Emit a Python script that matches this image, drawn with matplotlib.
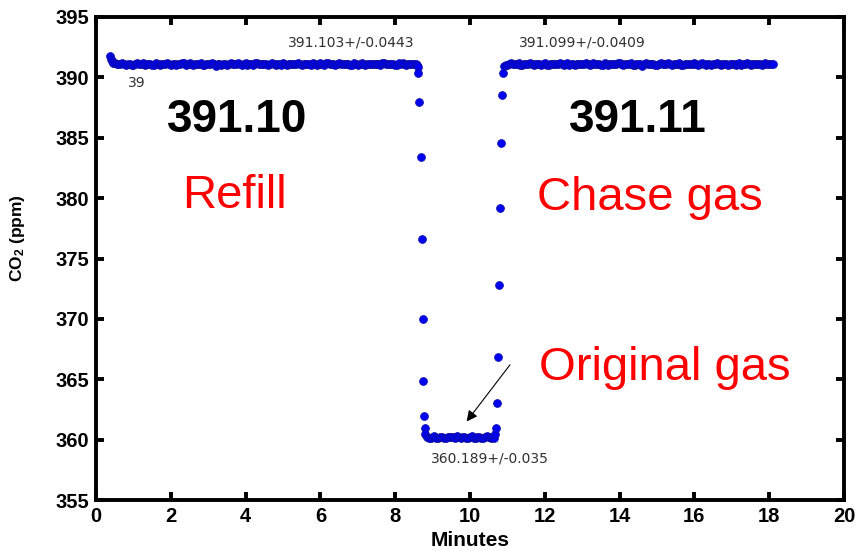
import numpy as np
import matplotlib
matplotlib.use("Agg")
import matplotlib.pyplot as plt

plt.rcParams['font.family'] = ['Liberation Sans', 'DejaVu Sans']
plt.rcParams['mathtext.fontset'] = 'custom'
plt.rcParams['mathtext.rm'] = 'Liberation Sans:bold'
plt.rcParams['mathtext.default'] = 'rm'

# ---- measurement record: CO2 (ppm) vs time (minutes) ----
# sampling step of the plateau records (minutes)
plateau_step = 0.05

# refill (reference) gas, first plateau
refill_lead_t = [0.38, 0.40, 0.42, 0.45]
refill_lead_ppm = [391.75, 391.55, 391.35, 391.20]
refill_t0 = 0.5
refill_ppm = [
    391.16, 391.10, 391.07, 391.13, 391.20, 391.08, 391.02, 391.14, 391.12, 391.06,
    391.05, 391.11, 391.22, 391.07, 391.09, 391.15, 391.01, 391.09, 391.14, 391.12,
    391.06, 391.05, 391.18, 391.12, 390.99, 391.14, 391.13, 391.07, 391.17, 391.10,
    391.04, 391.13, 391.11, 391.06, 391.08, 391.11, 391.21, 391.15, 391.03, 391.08,
    391.15, 391.11, 391.01, 391.07, 391.12, 391.12, 391.19, 391.06, 391.05, 391.14,
    391.09, 391.10, 391.16, 391.08, 390.98, 391.13, 391.14, 391.05, 391.11, 391.11,
    391.04, 391.12, 391.20, 391.09, 391.07, 391.14, 391.15, 391.07, 391.00, 391.13,
    391.17, 391.06, 391.10, 391.10, 391.06, 391.15, 391.18, 391.08, 391.08, 391.11,
    391.13, 391.07, 391.02, 391.14, 391.21, 391.09, 391.05, 391.12, 391.11, 391.05,
    391.16, 391.13, 391.01, 391.11, 391.12, 391.08, 391.07, 391.14, 391.17, 391.07,
    391.03, 391.10, 391.14, 391.12, 391.09, 391.06, 391.19, 391.13, 390.99, 391.11,
    391.15, 391.08, 391.06, 391.15, 391.18, 391.07, 391.10, 391.12, 391.04, 391.09,
    391.20, 391.14, 391.08, 391.08, 391.13, 391.11, 391.02, 391.05, 391.16, 391.13,
    391.05, 391.10, 391.22, 391.07, 391.00, 391.12, 391.12, 391.14, 391.09, 391.09,
    391.14, 391.08, 391.04, 391.15, 391.17, 391.07, 391.07, 391.11, 391.11, 391.12,
    391.01, 391.06, 391.15, 391.13, 391.18, 391.09, 391.03, 391.10, 391.12, 391.12,
    391.10, 391.09,
]

# switch from refill gas to original gas
drop_t = [8.58, 8.60, 8.62, 8.645, 8.68, 8.71, 8.74, 8.75, 8.77, 8.79, 8.81]
drop_ppm = [391.00, 390.85, 390.34, 387.94, 383.39, 376.65, 369.98, 364.89, 361.97, 360.95, 360.45]

# original gas plateau
orig_t0 = 8.85
orig_ppm = [
    360.24, 360.17, 360.15, 360.22, 360.27, 360.14, 360.12, 360.20, 360.21, 360.16,
    360.10, 360.23, 360.25, 360.18, 360.18, 360.15, 360.29, 360.21, 360.14, 360.19,
    360.22, 360.14, 360.11, 360.22, 360.26, 360.17, 360.16, 360.20, 360.20, 360.15,
    360.13, 360.23, 360.28, 360.18, 360.17, 360.21, 360.13,
]

# switch from original gas to chase gas
rise_t = [10.67, 10.69, 10.71, 10.74, 10.77, 10.80, 10.83, 10.86, 10.89, 10.92, 10.95]
rise_ppm = [360.45, 360.95, 363.07, 366.83, 372.81, 379.21, 384.59, 388.54, 390.34, 390.95, 391.05]

# chase gas plateau
chase_t0 = 11.0
chase_ppm = [
    391.05, 391.12, 391.18, 391.08, 391.08, 391.13, 391.21, 391.06, 391.01, 391.10,
    391.13, 391.14, 391.16, 391.07, 391.03, 391.11, 391.11, 391.09, 391.06, 391.13,
    391.19, 391.06, 391.00, 391.12, 391.14, 391.08, 391.09, 391.14, 391.17, 391.07,
    391.04, 391.11, 391.22, 391.05, 391.07, 391.13, 391.02, 391.10, 391.12, 391.08,
    391.07, 391.13, 391.15, 391.07, 390.99, 391.11, 391.18, 391.09, 391.10, 391.14,
    391.03, 391.06, 391.20, 391.12, 391.06, 391.08, 391.13, 391.10, 391.09, 391.15,
    391.16, 391.07, 391.02, 391.12, 391.12, 391.09, 391.19, 391.05, 391.05, 391.13,
    391.11, 391.10, 390.98, 391.14, 391.17, 391.08, 391.08, 391.11, 391.14, 391.06,
    391.04, 391.12, 391.21, 391.09, 391.07, 391.14, 391.15, 391.07, 391.01, 391.10,
    391.13, 391.13, 391.18, 391.06, 391.00, 391.11, 391.11, 391.08, 391.09, 391.12,
    391.17, 391.09, 391.06, 391.14, 391.20, 391.07, 391.03, 391.11, 391.12, 391.05,
    391.08, 391.13, 391.15, 391.10, 391.02, 391.08, 391.14, 391.12, 391.04, 391.07,
    391.13, 391.11, 391.01, 391.14, 391.16, 391.06, 391.09, 391.10, 391.19, 391.12,
    391.05, 391.08, 391.10, 391.13, 391.14, 391.09, 390.99, 391.07, 391.18, 391.11,
    391.08, 391.10, 391.11,
]

# segment statistics printed on the chart
refill_stat = "391.103+/-0.0443"
chase_stat = "391.099+/-0.0409"
orig_stat = "360.189+/-0.035"
refill_mean_label = "391.10"
chase_mean_label = "391.11"

x_ticks = [0, 2, 4, 6, 8, 10, 12, 14, 16, 18, 20]
y_ticks = [355, 360, 365, 370, 375, 380, 385, 390, 395]

# ---- assemble time series ----
refill_t = refill_t0 + plateau_step * np.arange(len(refill_ppm))
orig_t = orig_t0 + plateau_step * np.arange(len(orig_ppm))
chase_t = chase_t0 + plateau_step * np.arange(len(chase_ppm))

t_all = np.concatenate([refill_lead_t, refill_t, drop_t, orig_t, rise_t, chase_t])
ppm_all = np.concatenate([refill_lead_ppm, refill_ppm, drop_ppm, orig_ppm, rise_ppm, chase_ppm])

fig = plt.figure(figsize=(8.67, 5.51), dpi=100)
ax = fig.add_axes([96 / 867, 1 - 500 / 551, 748 / 867, 483 / 551])

ax.plot(t_all, ppm_all, linestyle='none', marker='o', markersize=5.7,
        markerfacecolor='#0000F2', markeredgecolor='#10109A', markeredgewidth=0.5)

ax.set_xlim(0, 20)
ax.set_ylim(355, 395)
ax.set_xticks(x_ticks)
ax.set_yticks(y_ticks)

for lab in ax.get_xticklabels() + ax.get_yticklabels():
    lab.set_fontweight('bold')
    lab.set_fontsize(14.5)

ax.tick_params(direction='in', length=6, width=2.8, top=True, right=True,
               labeltop=False, labelright=False, pad=5, colors='black')
for sp in ax.spines.values():
    sp.set_linewidth(2.8)
    sp.set_color('black')

ax.set_xlabel('Minutes', fontweight='bold', fontsize=15)
ax.xaxis.set_label_coords(0.5, -0.064)
ax.set_ylabel('CO$_2$ (ppm)', fontweight='bold', fontsize=12.5)
ax.yaxis.set_label_coords(-0.092, 0.542)

# segment statistics
stat_kw = dict(family='DejaVu Sans', fontsize=10, color='#303030', va='center', ha='left')
ax.text(5.13, 392.85, refill_stat, **stat_kw)
ax.text(11.3, 392.85, chase_stat, **stat_kw)
ax.text(8.96, 358.45, orig_stat, **stat_kw)
ax.text(0.86, 389.5, "39", **stat_kw)

# mean values
big_kw = dict(fontsize=33, fontweight='bold', color='black', ha='center', va='baseline')
ax.text(3.77, 385.48, refill_mean_label, **big_kw)
ax.text(14.48, 385.48, chase_mean_label, **big_kw)

# gas labels
gas_kw = dict(fontsize=34, color='#FF0000', ha='center', va='baseline')
ax.text(3.70, 379.15, "Refill", **gas_kw)
ax.text(14.80, 379.0, "Chase gas", **gas_kw)
ax.text(15.21, 364.95, "Original gas", **gas_kw)

ax.annotate('', xy=(9.91, 361.5), xytext=(11.07, 366.2),
            arrowprops=dict(arrowstyle='-|>', color='black', lw=0.8,
                            mutation_scale=16, shrinkA=0, shrinkB=0))

fig.savefig('out.png', dpi=100)
